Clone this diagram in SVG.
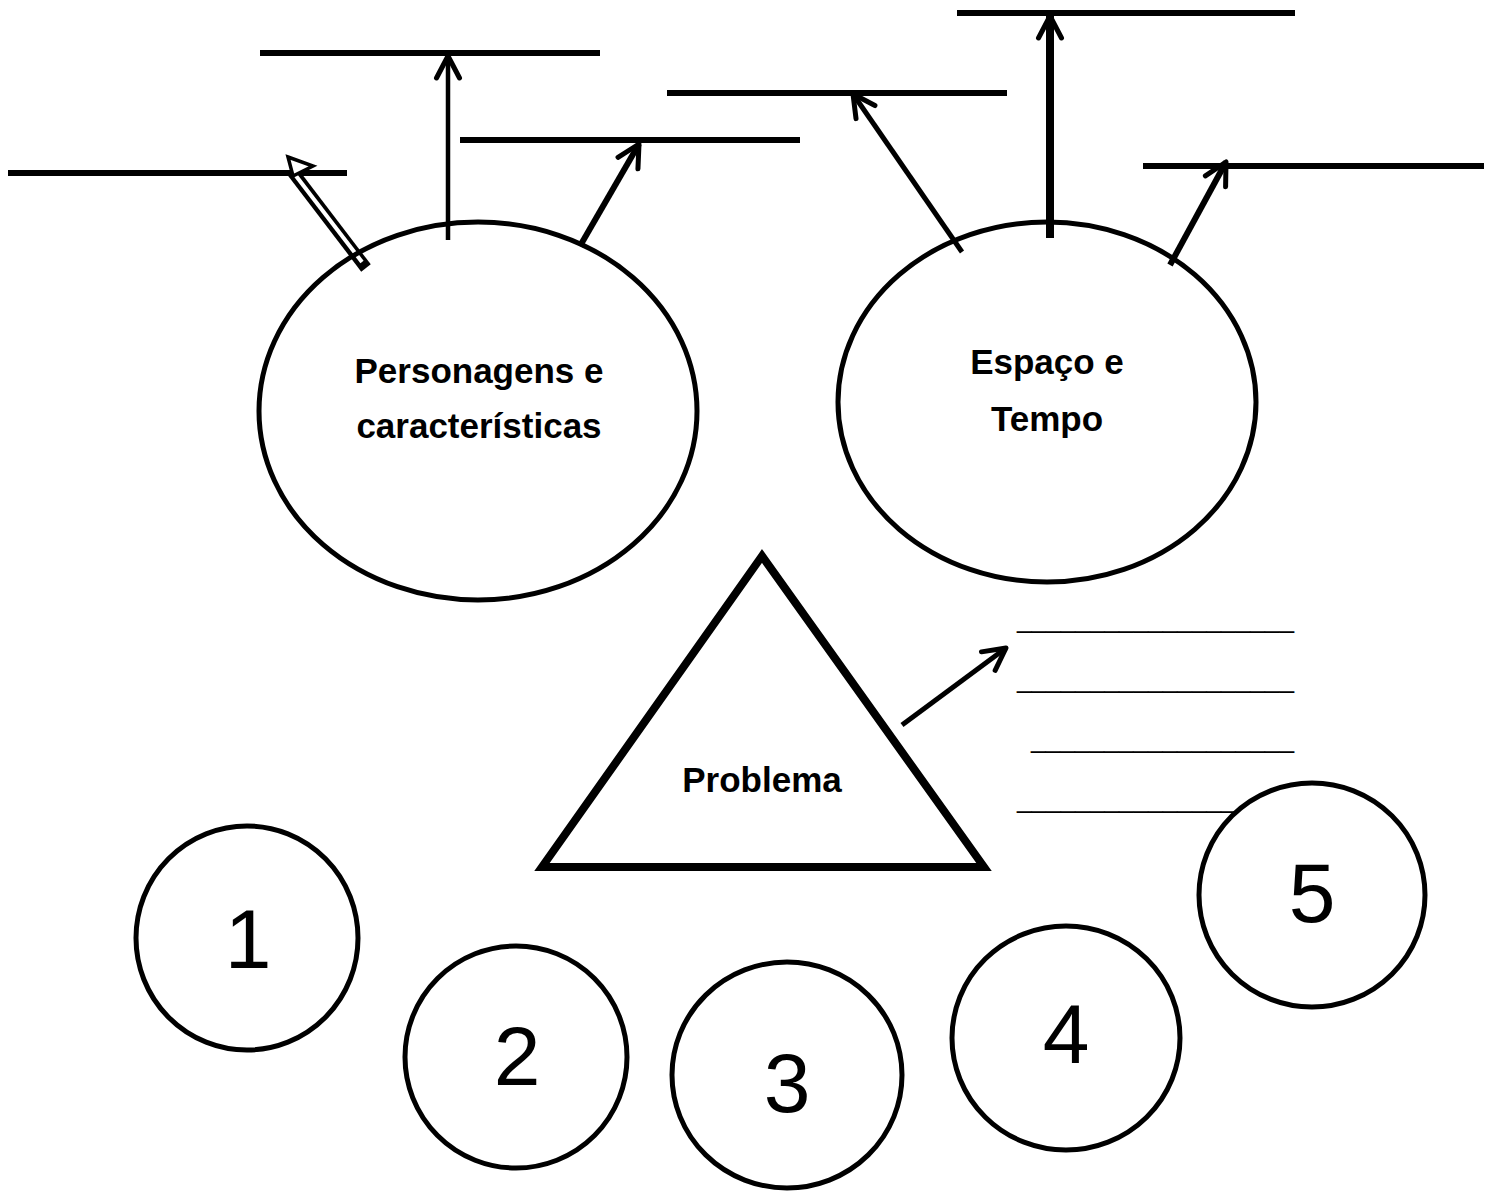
<svg xmlns="http://www.w3.org/2000/svg" width="1491" height="1196" viewBox="0 0 1491 1196">
<style>
.shape{fill:#fff;stroke:#000;stroke-width:5}
.blank{stroke:#000;stroke-width:6;fill:none}
.lbl{font-family:"Liberation Sans",Arial,sans-serif;font-weight:bold;font-size:35px;text-anchor:middle;fill:#000}
.num{font-family:"Liberation Sans",Arial,sans-serif;font-size:84px;text-anchor:middle;fill:#000}
.us{font-family:"Liberation Sans",Arial,sans-serif;font-size:26px;fill:#000}
.conn{stroke:#000;fill:none}
</style>
<defs>
<marker id="ah" markerUnits="userSpaceOnUse" markerWidth="40" markerHeight="40" viewBox="-30 -20 40 40" refX="0" refY="0" orient="auto" overflow="visible">
<path d="M-22,-11.5 L0,0 L-22,11.5" fill="none" stroke="#000" stroke-width="5" stroke-linecap="round" stroke-linejoin="round"/>
</marker>
</defs>
<rect width="1491" height="1196" fill="#fff"/>

<g id="blank-lines">
<line class="blank" x1="8" y1="173" x2="347" y2="173"/>
<line class="blank" x1="260" y1="53" x2="600" y2="53"/>
<line class="blank" x1="460" y1="140" x2="800" y2="140"/>
<line class="blank" x1="667" y1="93" x2="1007" y2="93"/>
<line class="blank" x1="957" y1="13" x2="1295" y2="13"/>
<line class="blank" x1="1143" y1="166" x2="1484" y2="166"/>
</g>

<g id="underscore-lines">
<text class="us" x="1017" y="628" textLength="277" lengthAdjust="spacingAndGlyphs">___________________</text>
<text class="us" x="1017" y="688" textLength="277" lengthAdjust="spacingAndGlyphs">___________________</text>
<text class="us" x="1031" y="748" textLength="263" lengthAdjust="spacingAndGlyphs">__________________</text>
<text class="us" x="1017" y="808" textLength="277" lengthAdjust="spacingAndGlyphs">___________________</text>
</g>

<g id="connectors">
<line x1="366" y1="268" x2="292" y2="171" stroke="#000" stroke-width="12"/>
<line x1="362" y1="262" x2="293" y2="172" stroke="#fff" stroke-width="4"/>
<polygon points="288,157 313,166 293,176" fill="#fff" stroke="#000" stroke-width="3.5" stroke-linejoin="miter"/>
<line class="conn" x1="448" y1="240" x2="448" y2="56" stroke-width="4.5" marker-end="url(#ah)"/>
<line class="conn" x1="580" y1="246" x2="639" y2="144" stroke-width="6" marker-end="url(#ah)"/>
<line class="conn" x1="962" y1="252" x2="853" y2="94" stroke-width="5" marker-end="url(#ah)"/>
<line class="conn" x1="1050" y1="238" x2="1050" y2="16" stroke-width="8" marker-end="url(#ah)"/>
<line class="conn" x1="1170" y1="265" x2="1226" y2="162" stroke-width="6" marker-end="url(#ah)"/>
<line class="conn" x1="902" y1="725" x2="1006" y2="648" stroke-width="5" marker-end="url(#ah)"/>
</g>

<g id="node-personagens">
<ellipse class="shape" cx="478" cy="411" rx="219" ry="189" style="fill:none"/>
<text class="lbl" x="479" y="383">Personagens e</text>
<text class="lbl" x="479" y="438">características</text>
</g>

<g id="node-espaco">
<ellipse class="shape" cx="1047" cy="402" rx="209" ry="180" style="fill:none"/>
<text class="lbl" x="1047" y="374">Espaço e</text>
<text class="lbl" x="1047" y="431">Tempo</text>
</g>

<g id="node-problema">
<polygon class="shape" points="762,556 542,867 984,867" style="stroke-width:8;fill:none"/>
<text class="lbl" x="762" y="792">Problema</text>
</g>

<g id="node-1">
<ellipse class="shape" cx="247" cy="938" rx="111" ry="112"/>
<text class="num" x="248" y="968">1</text>
</g>
<g id="node-2">
<ellipse class="shape" cx="516" cy="1057" rx="111" ry="111"/>
<text class="num" x="517" y="1085">2</text>
</g>
<g id="node-3">
<ellipse class="shape" cx="787" cy="1075" rx="115" ry="113"/>
<text class="num" x="787" y="1112">3</text>
</g>
<g id="node-4">
<ellipse class="shape" cx="1066" cy="1038" rx="114" ry="112"/>
<text class="num" x="1066" y="1063">4</text>
</g>
<g id="node-5">
<ellipse class="shape" cx="1312" cy="895" rx="113" ry="112"/>
<text class="num" x="1312" y="922">5</text>
</g>
</svg>
